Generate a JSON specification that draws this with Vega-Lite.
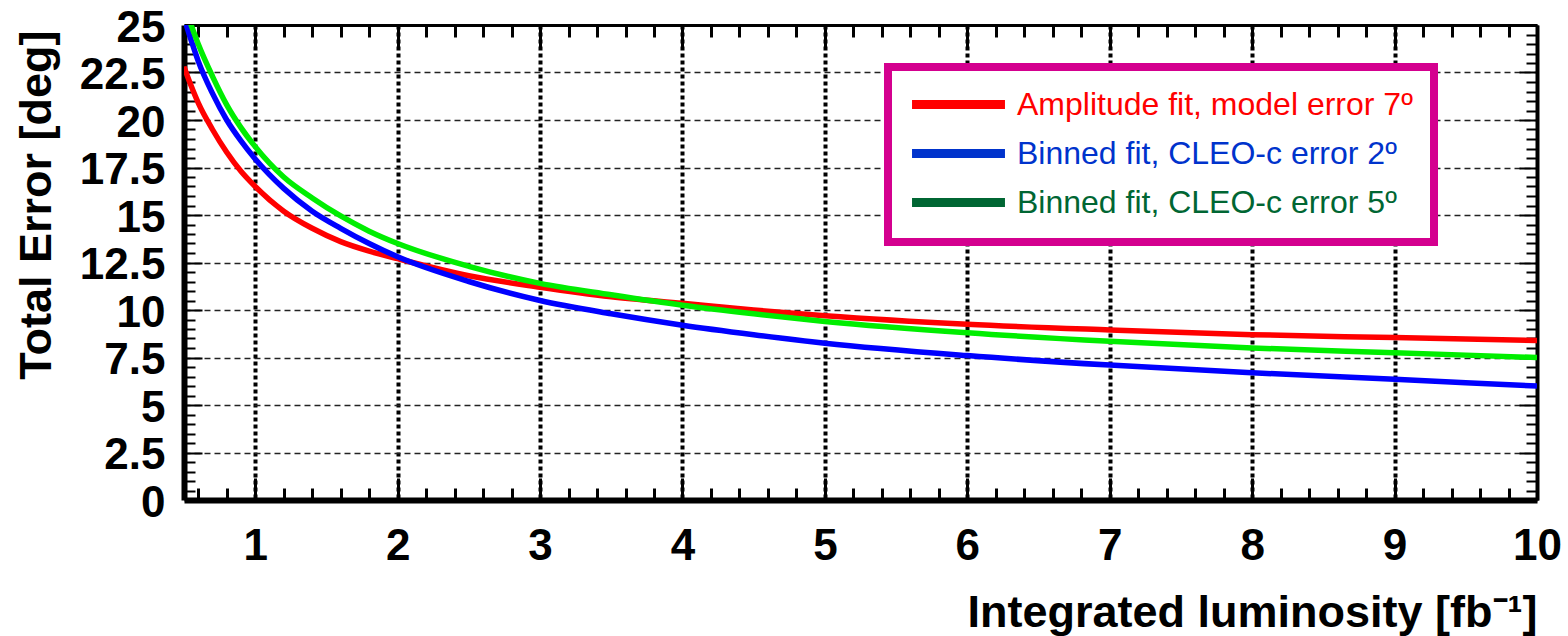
{
  "$schema": "https://vega.github.io/schema/vega-lite/v6.json",
  "width": 1353,
  "height": 475,
  "autosize": {"type": "none"},
  "padding": {"left": 184, "top": 25, "right": 31, "bottom": 136},
  "background": "white",
  "config": {
    "view": {"stroke": null},
    "axis": {
      "labelFont": "Liberation Sans",
      "labelFontWeight": "bold",
      "labelFontSize": 44,
      "labelColor": "#000000",
      "titleFont": "Liberation Sans",
      "titleFontWeight": "bold",
      "titleFontSize": 45,
      "titleColor": "#000000",
      "domainColor": "#000000",
      "tickColor": "#000000",
      "labelOverlap": false,
      "labelBound": false
    }
  },
  "data": {
    "values": [
      {"L": 0.5, "Amplitude fit, model error 7º": 22.8, "Binned fit, CLEO-c error 2º": 25.4, "Binned fit, CLEO-c error 5º": 26.0},
      {"L": 0.55, "Amplitude fit, model error 7º": 21.8, "Binned fit, CLEO-c error 2º": 24.2, "Binned fit, CLEO-c error 5º": 25.0},
      {"L": 0.6, "Amplitude fit, model error 7º": 20.9, "Binned fit, CLEO-c error 2º": 23.1, "Binned fit, CLEO-c error 5º": 24.0},
      {"L": 0.7, "Amplitude fit, model error 7º": 19.5, "Binned fit, CLEO-c error 2º": 21.4, "Binned fit, CLEO-c error 5º": 22.3},
      {"L": 0.8, "Amplitude fit, model error 7º": 18.3, "Binned fit, CLEO-c error 2º": 20.0, "Binned fit, CLEO-c error 5º": 20.8},
      {"L": 0.9, "Amplitude fit, model error 7º": 17.3, "Binned fit, CLEO-c error 2º": 18.9, "Binned fit, CLEO-c error 5º": 19.6},
      {"L": 1.0, "Amplitude fit, model error 7º": 16.5, "Binned fit, CLEO-c error 2º": 17.95, "Binned fit, CLEO-c error 5º": 18.6},
      {"L": 1.2, "Amplitude fit, model error 7º": 15.2, "Binned fit, CLEO-c error 2º": 16.4, "Binned fit, CLEO-c error 5º": 17.0},
      {"L": 1.4, "Amplitude fit, model error 7º": 14.3, "Binned fit, CLEO-c error 2º": 15.2, "Binned fit, CLEO-c error 5º": 15.9},
      {"L": 1.6, "Amplitude fit, model error 7º": 13.6, "Binned fit, CLEO-c error 2º": 14.3, "Binned fit, CLEO-c error 5º": 14.95},
      {"L": 1.8, "Amplitude fit, model error 7º": 13.1, "Binned fit, CLEO-c error 2º": 13.5, "Binned fit, CLEO-c error 5º": 14.15},
      {"L": 2.0, "Amplitude fit, model error 7º": 12.7, "Binned fit, CLEO-c error 2º": 12.8, "Binned fit, CLEO-c error 5º": 13.5},
      {"L": 2.5, "Amplitude fit, model error 7º": 11.8, "Binned fit, CLEO-c error 2º": 11.5, "Binned fit, CLEO-c error 5º": 12.3},
      {"L": 3.0, "Amplitude fit, model error 7º": 11.2, "Binned fit, CLEO-c error 2º": 10.5, "Binned fit, CLEO-c error 5º": 11.4},
      {"L": 3.5, "Amplitude fit, model error 7º": 10.7, "Binned fit, CLEO-c error 2º": 9.8, "Binned fit, CLEO-c error 5º": 10.8},
      {"L": 4.0, "Amplitude fit, model error 7º": 10.35, "Binned fit, CLEO-c error 2º": 9.2, "Binned fit, CLEO-c error 5º": 10.25},
      {"L": 4.5, "Amplitude fit, model error 7º": 10.0, "Binned fit, CLEO-c error 2º": 8.7, "Binned fit, CLEO-c error 5º": 9.8},
      {"L": 5.0, "Amplitude fit, model error 7º": 9.7, "Binned fit, CLEO-c error 2º": 8.25, "Binned fit, CLEO-c error 5º": 9.4},
      {"L": 6.0, "Amplitude fit, model error 7º": 9.25, "Binned fit, CLEO-c error 2º": 7.6, "Binned fit, CLEO-c error 5º": 8.8},
      {"L": 7.0, "Amplitude fit, model error 7º": 8.95, "Binned fit, CLEO-c error 2º": 7.1, "Binned fit, CLEO-c error 5º": 8.35},
      {"L": 8.0, "Amplitude fit, model error 7º": 8.7, "Binned fit, CLEO-c error 2º": 6.7, "Binned fit, CLEO-c error 5º": 8.0},
      {"L": 9.0, "Amplitude fit, model error 7º": 8.55, "Binned fit, CLEO-c error 2º": 6.35, "Binned fit, CLEO-c error 5º": 7.75},
      {"L": 10.0, "Amplitude fit, model error 7º": 8.4, "Binned fit, CLEO-c error 2º": 6.0, "Binned fit, CLEO-c error 5º": 7.5}
    ]
  },
  "transform": [
    {"fold": ["Amplitude fit, model error 7º", "Binned fit, CLEO-c error 2º", "Binned fit, CLEO-c error 5º"], "as": ["series", "err"]}
  ],
  "layer": [
    {
      "mark": {"type": "line", "strokeWidth": 2, "clip": true, "interpolate": "monotone"},
      "encoding": {
        "x": {
          "field": "L", "type": "quantitative",
          "scale": {"domain": [0.5, 10], "nice": false, "zero": false},
          "axis": {
            "orient": "top",
            "title": null,
            "labels": false,
            "grid": false,
            "values": [0.6,0.8,1,1.2,1.4,1.6,1.8,2,2.2,2.4,2.6,2.8,3,3.2,3.4,3.6,3.8,4,4.2,4.4,4.6,4.8,5,5.2,5.4,5.6,5.8,6,6.2,6.4,6.6,6.8,7,7.2,7.4,7.6,7.8,8,8.2,8.4,8.6,8.8,9,9.2,9.4,9.6,9.8,10],
            "domainWidth": 3,
            "tickWidth": 3,
            "tickSize": {"condition": {"test": "datum.value % 1 === 0", "value": -22}, "value": -12}
          }
        },
        "y": {
          "field": "err", "type": "quantitative",
          "scale": {"domain": [0, 25], "nice": false, "zero": false},
          "axis": {
            "orient": "right",
            "title": null,
            "labels": false,
            "grid": false,
            "values": [0,0.5,1,1.5,2,2.5,3,3.5,4,4.5,5,5.5,6,6.5,7,7.5,8,8.5,9,9.5,10,10.5,11,11.5,12,12.5,13,13.5,14,14.5,15,15.5,16,16.5,17,17.5,18,18.5,19,19.5,20,20.5,21,21.5,22,22.5,23,23.5,24,24.5,25],
            "domainWidth": 4,
            "tickWidth": 2,
            "tickSize": {"condition": {"test": "datum.value % 2.5 === 0", "value": -18}, "value": -11}
          }
        },
        "color": {
          "field": "series", "type": "nominal",
          "scale": {
            "domain": ["Amplitude fit, model error 7º", "Binned fit, CLEO-c error 2º", "Binned fit, CLEO-c error 5º"],
            "range": ["#ff0000", "#0033cc", "#006633"]
          },
          "legend": {
            "orient": "none",
            "legendX": 704,
            "legendY": 42,
            "title": null,
            "fillColor": "#ffffff",
            "strokeColor": "#d4008f",
            "padding": 21,
            "rowPadding": 12,
            "symbolType": "M-4,0H4",
            "symbolSize": 540,
            "symbolStrokeWidth": 9,
            "symbolOpacity": 1,
            "symbolOffset": 33,
            "labelOffset": 42,
            "labelFont": "Liberation Sans",
            "labelFontSize": 32,
            "labelLimit": 700,
            "encode": {
              "legend": {"update": {"strokeWidth": {"value": 8}}},
              "labels": {"update": {"fill": {"signal": "indexof(datum.value, 'Amplitude') >= 0 ? '#ff0000' : (indexof(datum.value, '2º') >= 0 ? '#0033cc' : '#006633')"}}}
            }
          }
        }
      }
    },
    {
      "mark": {"type": "line", "strokeWidth": 5.5, "clip": true, "interpolate": "monotone"},
      "encoding": {
        "x": {
          "field": "L", "type": "quantitative",
          "axis": {
            "orient": "bottom",
            "title": "Integrated luminosity [fb⁻¹]",
            "titleX": 1353, "titleY": 126, "titleAlign": "right", "titleBaseline": "alphabetic", "titleAngle": 0,
            "values": [0.6,0.8,1,1.2,1.4,1.6,1.8,2,2.2,2.4,2.6,2.8,3,3.2,3.4,3.6,3.8,4,4.2,4.4,4.6,4.8,5,5.2,5.4,5.6,5.8,6,6.2,6.4,6.6,6.8,7,7.2,7.4,7.6,7.8,8,8.2,8.4,8.6,8.8,9,9.2,9.4,9.6,9.8,10],
            "labelExpr": "datum.value % 1 === 0 ? format(datum.value, 'd') : ''",
            "labelFlush": false,
            "labelPadding": 46,
            "labelBaseline": "top",
            "domainWidth": 6,
            "tickWidth": 3,
            "tickSize": {"condition": {"test": "datum.value % 1 === 0", "value": -22}, "value": -12},
            "grid": true,
            "gridColor": "#000000",
            "gridWidth": 4,
            "gridDash": [4, 3],
            "gridOpacity": {"condition": {"test": "datum.value % 1 !== 0 || datum.value === 10", "value": 0}, "value": 1}
          }
        },
        "y": {
          "field": "err", "type": "quantitative",
          "axis": {
            "orient": "left",
            "title": "Total Error [deg]",
            "titleX": -134, "titleY": 5, "titleAlign": "right", "titleBaseline": "alphabetic", "titleAngle": -90,
            "values": [0,0.5,1,1.5,2,2.5,3,3.5,4,4.5,5,5.5,6,6.5,7,7.5,8,8.5,9,9.5,10,10.5,11,11.5,12,12.5,13,13.5,14,14.5,15,15.5,16,16.5,17,17.5,18,18.5,19,19.5,20,20.5,21,21.5,22,22.5,23,23.5,24,24.5,25],
            "labelExpr": "datum.value % 2.5 === 0 ? format(datum.value, '~g') : ''",
            "labelPadding": 37,
            "labelOffset": 3,
            "domainWidth": 6,
            "tickWidth": 2,
            "tickSize": {"condition": {"test": "datum.value % 2.5 === 0", "value": -18}, "value": -11},
            "grid": true,
            "gridColor": "#222222",
            "gridWidth": 1.5,
            "gridDash": [6, 4],
            "gridOpacity": {"condition": {"test": "datum.value % 2.5 !== 0 || datum.value === 0 || datum.value === 25", "value": 0}, "value": 1}
          }
        },
        "stroke": {
          "field": "series", "type": "nominal",
          "scale": {
            "domain": ["Amplitude fit, model error 7º", "Binned fit, CLEO-c error 2º", "Binned fit, CLEO-c error 5º"],
            "range": ["#ff0000", "#0000ff", "#00ee00"]
          },
          "legend": null
        }
      }
    }
  ],
  "resolve": {"axis": {"x": "independent", "y": "independent"}}
}
